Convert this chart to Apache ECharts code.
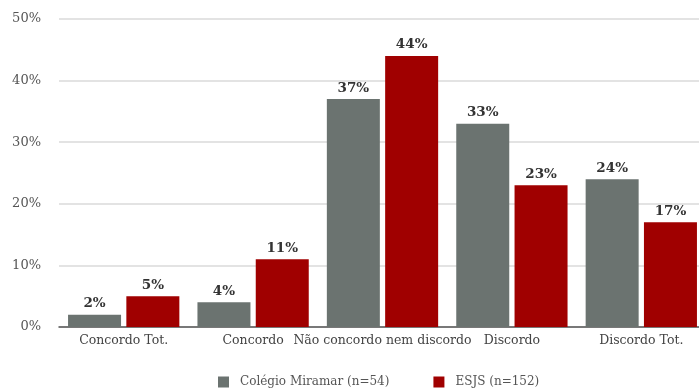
<!DOCTYPE html>
<html>
<head>
<meta charset="utf-8">
<script src="https://cdn.jsdelivr.net/npm/echarts@6/dist/echarts.min.js"></script>
<style>
  html, body { margin: 0; padding: 0; background: #fff; }
  #chart { width: 699px; height: 392px; }
</style>
</head>
<body>
<div id="chart"></div>
<script>
// Survey answers by school, in percent
const categories = ['Concordo Tot.', 'Concordo', 'Não concordo nem discordo', 'Discordo', 'Discordo Tot.'];
const miramar = [2, 4, 37, 33, 24];
const esjs = [5, 11, 44, 23, 17];
const seriesNames = ['Colégio Miramar (n=54)', 'ESJS (n=152)'];
const yTicks = [0, 10, 20, 30, 40, 50];

const serif = '"DejaVu Serif", "Liberation Serif", serif';

const labelStyle = {
  show: true,
  position: 'top',
  distance: 4,
  formatter: p => p.value + '%',
  fontFamily: serif,
  fontSize: 13.5,
  fontWeight: 'bold',
  color: '#333'
};

const chart = echarts.init(document.getElementById('chart'), null, { renderer: 'canvas' });
chart.setOption({
  animation: false,
  backgroundColor: '#fff',
  grid: {
    left: 59, top: 19, right: -7, bottom: 65,
    containLabel: false,
    outerBoundsMode: 'none'
  },
  legend: {
    top: 371,
    left: 213,
    itemWidth: 11,
    itemHeight: 11,
    itemGap: 44,
    icon: 'rect',
    textStyle: { fontFamily: serif, fontSize: 12, color: '#555', padding: [0, 0, 0, 6] },
    data: seriesNames
  },
  xAxis: {
    type: 'category',
    data: categories,
    axisTick: { show: false },
    axisLine: { lineStyle: { color: '#555', width: 1.5 } },
    axisLabel: {
      interval: 0,
      margin: 7,
      fontFamily: serif,
      fontSize: 12.5,
      color: '#444'
    }
  },
  yAxis: {
    type: 'value',
    min: yTicks[0],
    max: yTicks[yTicks.length - 1],
    interval: 10,
    axisLine: { show: false },
    axisTick: { show: false },
    axisLabel: {
      margin: 18,
      formatter: v => v + '%',
      fontFamily: serif,
      fontSize: 13,
      color: '#555'
    },
    splitLine: { lineStyle: { color: '#dadada', width: 1.5 } }
  },
  series: [
    {
      name: seriesNames[0],
      type: 'bar',
      data: miramar,
      barWidth: 53,
      barGap: '10%',
      itemStyle: { color: '#6b7370' },
      label: labelStyle
    },
    {
      name: seriesNames[1],
      type: 'bar',
      data: esjs,
      barWidth: 53,
      barGap: '10%',
      itemStyle: { color: '#a00000' },
      label: labelStyle
    }
  ]
});
</script>
</body>
</html>
